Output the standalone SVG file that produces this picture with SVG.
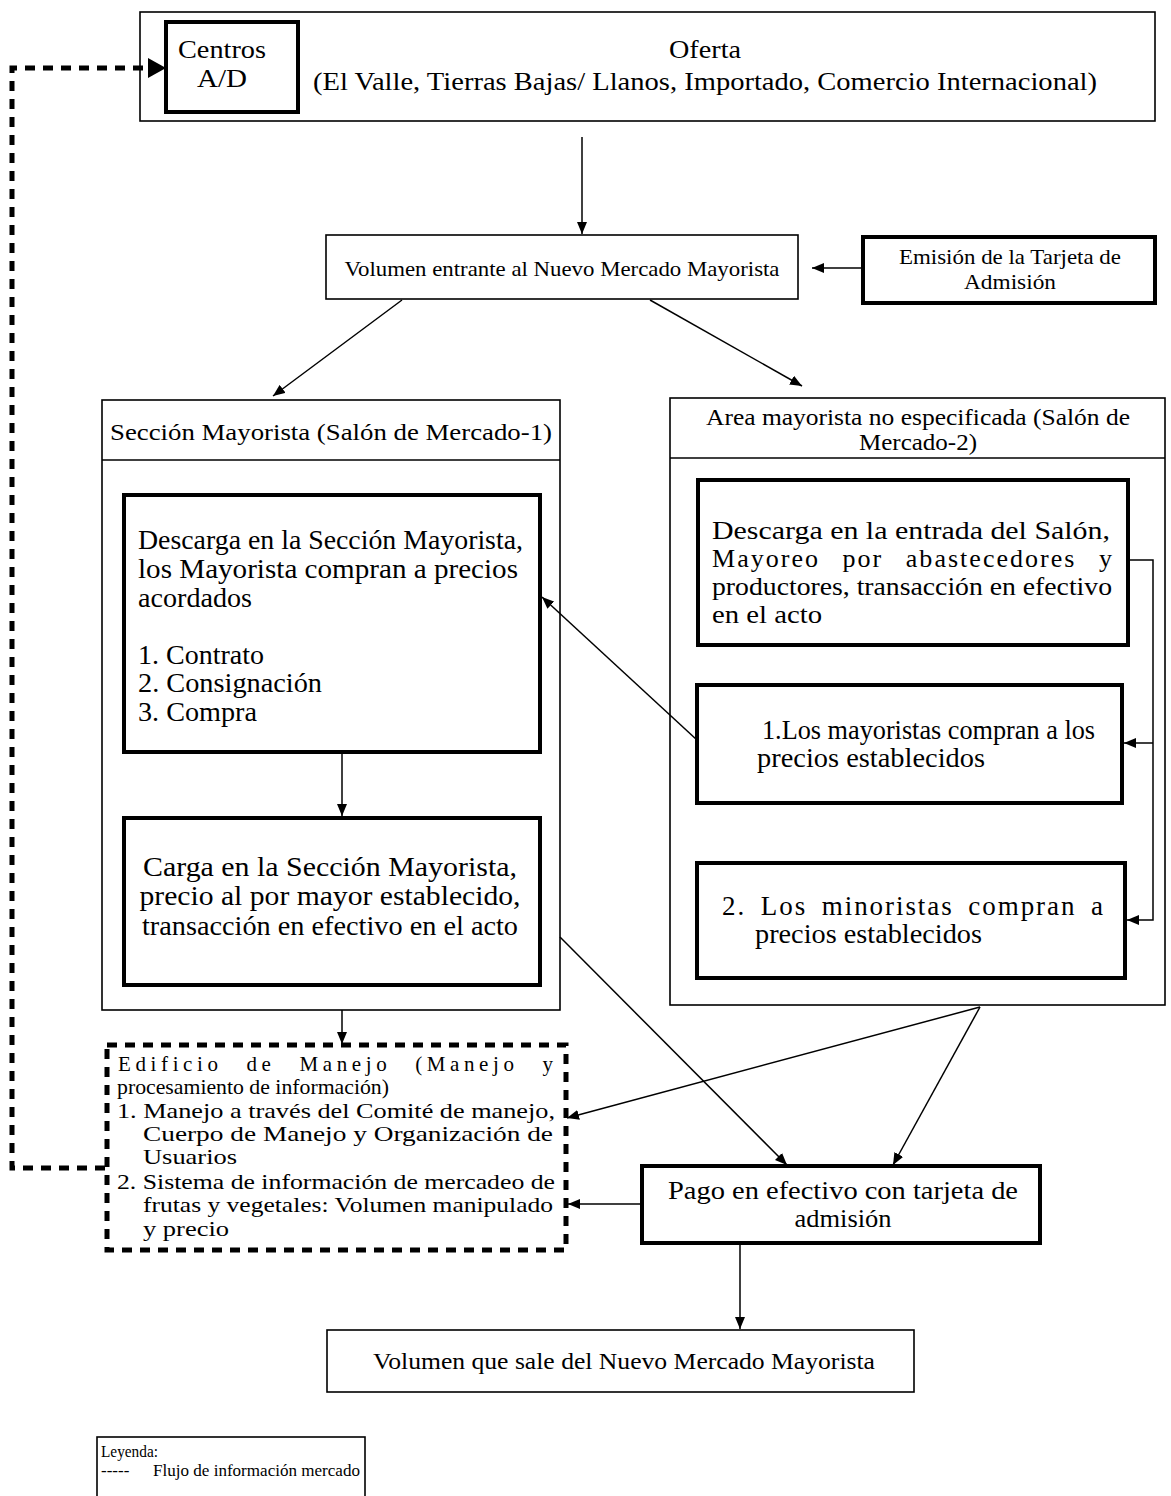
<svg xmlns="http://www.w3.org/2000/svg" width="1171" height="1496" viewBox="0 0 1171 1496">
<style>
text{font-family:"Liberation Serif","Times New Roman",serif;fill:#000}
.box{fill:#fff;stroke:#000;stroke-width:1.6}
.thick{fill:#fff;stroke:#000;stroke-width:4}
.dash{fill:none;stroke:#000;stroke-width:5;stroke-dasharray:10 8}
.con{fill:none;stroke:#000;stroke-width:1.5}
.f27{font-size:27px}
.f26{font-size:26px}
.f24{font-size:24px}
.f23{font-size:23px}
.f21{font-size:21px}
.c{text-anchor:middle}
</style>
<defs>
<marker id="ah" viewBox="0 0 12 10" refX="12" refY="5" markerWidth="12" markerHeight="10" markerUnits="userSpaceOnUse" orient="auto"><path d="M0,0 L12,5 L0,10 z" fill="#000"/></marker>
</defs>
<rect width="1171" height="1496" fill="#fff"/>

<g id="oferta">
<rect class="box" x="140" y="12" width="1015" height="109"/>
<text class="f26 c" x="705" y="58" textLength="72" lengthAdjust="spacingAndGlyphs">Oferta</text>
<text class="f26 c" x="705" y="90" textLength="784" lengthAdjust="spacingAndGlyphs">(El Valle, Tierras Bajas/ Llanos, Importado, Comercio Internacional)</text>
</g>
<g id="centros">
<rect class="thick" x="166" y="22" width="132" height="90"/>
<text class="f26 c" x="222" y="58" textLength="88" lengthAdjust="spacingAndGlyphs">Centros</text>
<text class="f26 c" x="222" y="87" textLength="50" lengthAdjust="spacingAndGlyphs">A/D</text>
</g>

<g id="volumen-entrante">
<rect class="box" x="326" y="235" width="472" height="64"/>
<text class="f21 c" x="562" y="276" textLength="435" lengthAdjust="spacingAndGlyphs">Volumen entrante al Nuevo Mercado Mayorista</text>
</g>
<g id="emision">
<rect class="thick" x="863" y="237" width="292" height="66"/>
<text class="f21 c" x="1010" y="264" textLength="222" lengthAdjust="spacingAndGlyphs">Emisión de la Tarjeta de</text>
<text class="f21 c" x="1010" y="289" textLength="92" lengthAdjust="spacingAndGlyphs">Admisión</text>
</g>

<g id="seccion-mayorista">
<rect class="box" x="102" y="400" width="458" height="610"/>
<line x1="102" y1="460" x2="560" y2="460" stroke="#000" stroke-width="1.6"/>
<text class="f23 c" x="331" y="440" textLength="442" lengthAdjust="spacingAndGlyphs">Sección Mayorista (Salón de Mercado-1)</text>
</g>
<g id="descarga-seccion">
<rect class="thick" x="124" y="495" width="416" height="257"/>
<text class="f27" x="138" y="549" textLength="385" lengthAdjust="spacingAndGlyphs">Descarga en la Sección Mayorista,</text>
<text class="f27" x="138" y="578" textLength="380" lengthAdjust="spacingAndGlyphs">los Mayorista compran a precios</text>
<text class="f27" x="138" y="607" textLength="114" lengthAdjust="spacingAndGlyphs">acordados</text>
<text class="f27" x="138" y="664" textLength="126" lengthAdjust="spacingAndGlyphs">1. Contrato</text>
<text class="f27" x="138" y="692" textLength="184" lengthAdjust="spacingAndGlyphs">2. Consignación</text>
<text class="f27" x="138" y="721" textLength="119" lengthAdjust="spacingAndGlyphs">3. Compra</text>
</g>
<g id="carga-seccion">
<rect class="thick" x="124" y="818" width="416" height="167"/>
<text class="f27 c" x="330" y="876" textLength="374" lengthAdjust="spacingAndGlyphs">Carga en la Sección Mayorista,</text>
<text class="f27 c" x="330" y="905" textLength="381" lengthAdjust="spacingAndGlyphs">precio al por mayor establecido,</text>
<text class="f27 c" x="330" y="935" textLength="376" lengthAdjust="spacingAndGlyphs">transacción en efectivo en el acto</text>
</g>

<g id="area-no-especificada">
<rect class="box" x="670" y="398" width="495" height="607"/>
<line x1="670" y1="458" x2="1165" y2="458" stroke="#000" stroke-width="1.6"/>
<text class="f23 c" x="918" y="425" textLength="424" lengthAdjust="spacingAndGlyphs">Area mayorista no especificada (Salón de</text>
<text class="f23 c" x="918" y="450" textLength="118" lengthAdjust="spacingAndGlyphs">Mercado-2)</text>
</g>
<g id="descarga-entrada">
<rect class="thick" x="698" y="480" width="430" height="165"/>
<text class="f26" x="712" y="539" textLength="398" lengthAdjust="spacingAndGlyphs">Descarga en la entrada del Salón,</text>
<text class="f26" x="712" y="567" textLength="400" lengthAdjust="spacing" style="word-spacing:14px">Mayoreo por abastecedores y</text>
<text class="f26" x="712" y="595" textLength="400" lengthAdjust="spacingAndGlyphs">productores, transacción en efectivo</text>
<text class="f26" x="712" y="623" textLength="110" lengthAdjust="spacingAndGlyphs">en el acto</text>
</g>
<g id="mayoristas-compran">
<rect class="thick" x="697" y="685" width="425" height="118"/>
<text class="f27" x="762" y="739" textLength="333" lengthAdjust="spacingAndGlyphs">1.Los mayoristas compran a los</text>
<text class="f27" x="757" y="767" textLength="228" lengthAdjust="spacingAndGlyphs">precios establecidos</text>
</g>
<g id="minoristas-compran">
<rect class="thick" x="697" y="863" width="428" height="115"/>
<text class="f27" x="722" y="915" textLength="381" lengthAdjust="spacing" style="word-spacing:6px">2. Los minoristas compran a</text>
<text class="f27" x="755" y="943" textLength="227" lengthAdjust="spacingAndGlyphs">precios establecidos</text>
</g>

<g id="edificio-manejo">
<rect class="dash" x="107" y="1045" width="459" height="205" fill="#fff"/>
<text class="f21" x="118" y="1071" textLength="435" lengthAdjust="spacing" style="word-spacing:14px">Edificio de Manejo (Manejo y</text>
<text class="f21" x="117" y="1094" textLength="272" lengthAdjust="spacingAndGlyphs">procesamiento de información)</text>
<text class="f21" x="117" y="1118" textLength="438" lengthAdjust="spacingAndGlyphs">1. Manejo a través del Comité de manejo,</text>
<text class="f21" x="143" y="1141" textLength="410" lengthAdjust="spacingAndGlyphs">Cuerpo de Manejo y Organización de</text>
<text class="f21" x="143" y="1164" textLength="94" lengthAdjust="spacingAndGlyphs">Usuarios</text>
<text class="f21" x="117" y="1189" textLength="438" lengthAdjust="spacingAndGlyphs">2. Sistema de información de mercadeo de</text>
<text class="f21" x="143" y="1212" textLength="410" lengthAdjust="spacingAndGlyphs">frutas y vegetales: Volumen manipulado</text>
<text class="f21" x="143" y="1236" textLength="86" lengthAdjust="spacingAndGlyphs">y precio</text>
</g>

<g id="pago">
<rect class="thick" x="642" y="1166" width="398" height="77"/>
<text class="f26 c" x="843" y="1199" textLength="350" lengthAdjust="spacingAndGlyphs">Pago en efectivo con tarjeta de</text>
<text class="f26 c" x="843" y="1227" textLength="97" lengthAdjust="spacingAndGlyphs">admisión</text>
</g>

<g id="volumen-sale">
<rect class="box" x="327" y="1330" width="587" height="62"/>
<text class="f24 c" x="624" y="1369" textLength="502" lengthAdjust="spacingAndGlyphs">Volumen que sale del Nuevo Mercado Mayorista</text>
</g>

<g id="leyenda">
<rect class="box" x="97" y="1437" width="268" height="62"/>
<text x="101" y="1457" style="font-size:17px" textLength="57" lengthAdjust="spacingAndGlyphs">Leyenda:</text>
<text x="101" y="1476" style="font-size:17px">-----</text>
<text x="153" y="1476" style="font-size:17px" textLength="207" lengthAdjust="spacingAndGlyphs">Flujo de información mercado</text>
</g>

<g id="connectors">
<path class="dash" d="M105,1168 H12 V68 H148"/>
<path d="M148,58 L166,68 L148,78 z" fill="#000"/>
<line class="con" x1="582" y1="137" x2="582" y2="234" marker-end="url(#ah)"/>
<line class="con" x1="862" y1="268" x2="812" y2="268" marker-end="url(#ah)"/>
<line class="con" x1="402" y1="300" x2="273" y2="396" marker-end="url(#ah)"/>
<line class="con" x1="650" y1="300" x2="802" y2="386" marker-end="url(#ah)"/>
<line class="con" x1="342" y1="752" x2="342" y2="816" marker-end="url(#ah)"/>
<line class="con" x1="342" y1="1010" x2="342" y2="1044" marker-end="url(#ah)"/>
<path class="con" d="M1128,560 H1153 V920 H1127" marker-end="url(#ah)"/>
<line class="con" x1="1153" y1="743" x2="1124" y2="743" marker-end="url(#ah)"/>
<line class="con" x1="697" y1="740" x2="542" y2="597" marker-end="url(#ah)"/>
<line class="con" x1="560" y1="937" x2="787" y2="1165" marker-end="url(#ah)"/>
<line class="con" x1="980" y1="1007" x2="567" y2="1118" marker-end="url(#ah)"/>
<line class="con" x1="980" y1="1007" x2="893" y2="1165" marker-end="url(#ah)"/>
<line class="con" x1="642" y1="1204" x2="568" y2="1204" marker-end="url(#ah)"/>
<line class="con" x1="740" y1="1243" x2="740" y2="1329" marker-end="url(#ah)"/>
</g>
</svg>
